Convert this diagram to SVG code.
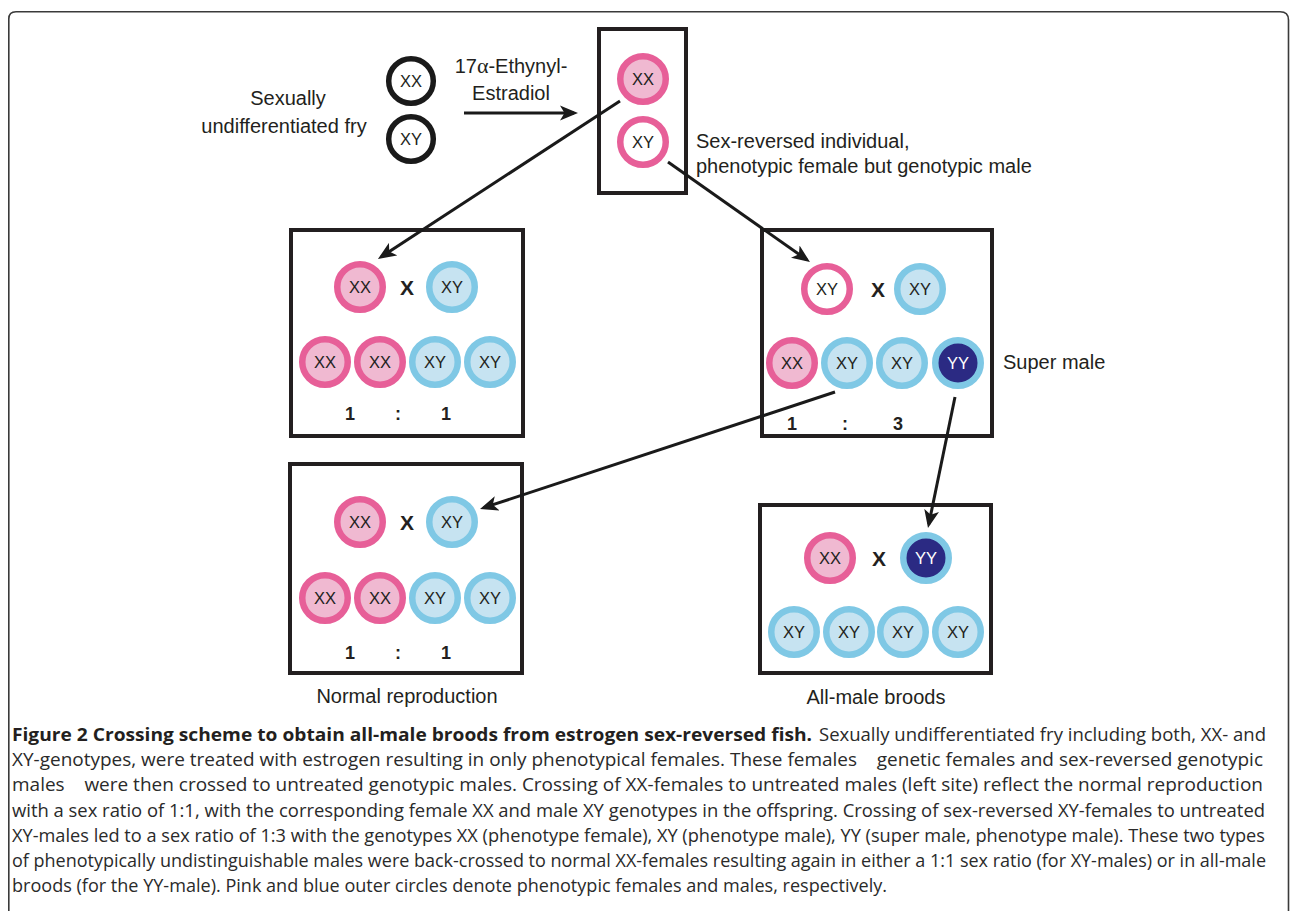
<svg xmlns="http://www.w3.org/2000/svg" width="1290" height="911" viewBox="0 0 1290 911">
<style>
.frame{fill:none;stroke:#3a3a3a;stroke-width:1.6}
.box{fill:none;stroke:#231f20;stroke-width:4}
.f{fill:#f0b9d1;stroke:#e75f98;stroke-width:6.5}
.m{fill:#c6e3f1;stroke:#7fc8e5;stroke-width:6.5}
.sr{fill:#fff;stroke:#e75f98;stroke-width:6.5}
.yy{fill:#2b2a83;stroke:#7fc8e5;stroke-width:6.5}
.fry{fill:#fff;stroke:#1a1a1a;stroke-width:5.5}
.g{font-family:"Liberation Sans",Arial,sans-serif;font-size:16.5px;fill:#231f20;text-anchor:middle}
.w{fill:#fff}
.x{font-family:"Liberation Sans",Arial,sans-serif;font-size:21px;font-weight:bold;fill:#231f20;text-anchor:middle}
.r{font-family:"Liberation Sans",Arial,sans-serif;font-size:18px;font-weight:bold;fill:#231f20;text-anchor:middle}
.lbl{font-family:"Liberation Sans",Arial,sans-serif;font-size:20px;fill:#231f20}
.cap{font-family:"Open Sans","Liberation Sans",sans-serif;font-size:17.5px;fill:#2a2a2a}
.capb{font-family:"Open Sans","Liberation Sans",sans-serif;font-size:17.5px;font-weight:bold;fill:#231f20}
.conn{fill:none;stroke:#1a1a1a;stroke-width:3}
</style>
<defs>
<marker id="ah" markerUnits="userSpaceOnUse" markerWidth="19" markerHeight="16" refX="14" refY="8" orient="auto">
<path d="M0,0.5 L18,8 L0,15.5 L4.5,8 z" fill="#1a1a1a"/>
</marker>
</defs>
<path class="frame" d="M8.8,930 V19 Q8.8,11.8 16,11.8 H1280 Q1288.5,11.8 1288.5,20 V930"/>

<g id="fry">
<text class="lbl" x="288" y="105" text-anchor="middle" font-size="19.5">Sexually</text>
<text class="lbl" x="284" y="133" text-anchor="middle" font-size="19.5">undifferentiated fry</text>
</g>
<g id="fry-xx"><circle class="fry" cx="411" cy="81" r="22.3"/><text class="g" x="411" y="87">XX</text></g>
<g id="fry-xy"><circle class="fry" cx="411" cy="139" r="22.3"/><text class="g" x="411" y="145">XY</text></g>
<g id="treatment-label">
<text class="lbl" x="511" y="73" text-anchor="middle">17<tspan font-family="'Liberation Serif',serif" font-size="22">α</tspan>-Ethynyl-</text>
<text class="lbl" x="511" y="100" text-anchor="middle">Estradiol</text>
</g>

<g id="treated">
<rect class="box" x="599" y="29" width="87" height="164"/>
<circle class="f" cx="643" cy="79" r="22.75"/><text class="g" x="643" y="85">XX</text>
<circle class="sr" cx="643" cy="142" r="22.75"/><text class="g" x="643" y="148">XY</text>
</g>
<g id="sexrev-label">
<text class="lbl" x="696" y="148">Sex-reversed individual,</text>
<text class="lbl" x="696" y="173">phenotypic female but genotypic male</text>
</g>

<g id="cross-normal-1">
<rect class="box" x="291" y="230" width="232" height="206"/>
<circle class="f" cx="360" cy="287" r="22.75"/><text class="g" x="360" y="293">XX</text>
<text class="x" x="407" y="295">X</text>
<circle class="m" cx="452" cy="287" r="22.75"/><text class="g" x="452" y="293">XY</text>
<circle class="f" cx="325" cy="362" r="22.75"/><text class="g" x="325" y="368">XX</text>
<circle class="f" cx="380" cy="362" r="22.75"/><text class="g" x="380" y="368">XX</text>
<circle class="m" cx="435" cy="362" r="22.75"/><text class="g" x="435" y="368">XY</text>
<circle class="m" cx="490" cy="362" r="22.75"/><text class="g" x="490" y="368">XY</text>
<text class="r" x="350" y="420">1</text><text class="r" x="398" y="420">:</text><text class="r" x="446" y="420">1</text>
</g>

<g id="cross-sexrev">
<rect class="box" x="762" y="230" width="230" height="206"/>
<circle class="sr" cx="827" cy="289" r="22.75"/><text class="g" x="827" y="295">XY</text>
<text class="x" x="878" y="297">X</text>
<circle class="m" cx="920" cy="289" r="22.75"/><text class="g" x="920" y="295">XY</text>
<circle class="f" cx="792" cy="363" r="22.75"/><text class="g" x="792" y="369">XX</text>
<circle class="m" cx="847" cy="363" r="22.75"/><text class="g" x="847" y="369">XY</text>
<circle class="m" cx="902" cy="363" r="22.75"/><text class="g" x="902" y="369">XY</text>
<circle class="yy" cx="958" cy="363" r="22.75"/><text class="g w" x="958" y="369">YY</text>
<text class="r" x="792" y="430">1</text><text class="r" x="845" y="430">:</text><text class="r" x="898" y="430">3</text>
</g>
<g id="super-male-label"><text class="lbl" x="1003" y="369">Super male</text></g>

<g id="cross-normal-2">
<rect class="box" x="290" y="464" width="232" height="209"/>
<circle class="f" cx="360" cy="522" r="22.75"/><text class="g" x="360" y="528">XX</text>
<text class="x" x="407" y="530">X</text>
<circle class="m" cx="452" cy="522" r="22.75"/><text class="g" x="452" y="528">XY</text>
<circle class="f" cx="325" cy="598" r="22.75"/><text class="g" x="325" y="604">XX</text>
<circle class="f" cx="380" cy="598" r="22.75"/><text class="g" x="380" y="604">XX</text>
<circle class="m" cx="435" cy="598" r="22.75"/><text class="g" x="435" y="604">XY</text>
<circle class="m" cx="490" cy="598" r="22.75"/><text class="g" x="490" y="604">XY</text>
<text class="r" x="350" y="659">1</text><text class="r" x="398" y="659">:</text><text class="r" x="446" y="659">1</text>
<text class="lbl" x="407" y="703" text-anchor="middle">Normal reproduction</text>
</g>

<g id="cross-allmale">
<rect class="box" x="760" y="505" width="231" height="168"/>
<circle class="f" cx="830" cy="558" r="22.75"/><text class="g" x="830" y="564">XX</text>
<text class="x" x="879" y="566">X</text>
<circle class="yy" cx="926" cy="558" r="22.75"/><text class="g w" x="926" y="564">YY</text>
<circle class="m" cx="794" cy="632" r="22.75"/><text class="g" x="794" y="638">XY</text>
<circle class="m" cx="849" cy="632" r="22.75"/><text class="g" x="849" y="638">XY</text>
<circle class="m" cx="903" cy="632" r="22.75"/><text class="g" x="903" y="638">XY</text>
<circle class="m" cx="958" cy="632" r="22.75"/><text class="g" x="958" y="638">XY</text>
<text class="lbl" x="876" y="704" text-anchor="middle">All-male broods</text>
</g>

<g id="connectors">
<line class="conn" x1="464" y1="113" x2="574" y2="113" marker-end="url(#ah)"/>
<line class="conn" x1="620" y1="101" x2="381.3" y2="256.8" marker-end="url(#ah)"/>
<line class="conn" x1="668" y1="162" x2="806.7" y2="259.7" marker-end="url(#ah)"/>
<line class="conn" x1="835" y1="392" x2="483.8" y2="507.7" marker-end="url(#ah)"/>
<line class="conn" x1="955" y1="397" x2="928.8" y2="524.1" marker-end="url(#ah)"/>
</g>

<g id="caption">
<text class="capb" x="12" y="741" textLength="800" lengthAdjust="spacingAndGlyphs">Figure 2 Crossing scheme to obtain all-male broods from estrogen sex-reversed fish.</text>
<text class="cap" x="819" y="741" textLength="447" lengthAdjust="spacingAndGlyphs">Sexually undifferentiated fry including both, XX- and</text>
<text class="cap" x="12" y="766.2" textLength="1251" lengthAdjust="spacingAndGlyphs">XY-genotypes, were treated with estrogen resulting in only phenotypical females. These females &#160;&#160;&#160;genetic females and sex-reversed genotypic</text>
<text class="cap" x="12" y="791.4" textLength="1251" lengthAdjust="spacingAndGlyphs">males &#160;&#160;&#160;were then crossed to untreated genotypic males. Crossing of XX-females to untreated males (left site) reflect the normal reproduction</text>
<text class="cap" x="12" y="816.6" textLength="1253" lengthAdjust="spacingAndGlyphs">with a sex ratio of 1:1, with the corresponding female XX and male XY genotypes in the offspring. Crossing of sex-reversed XY-females to untreated</text>
<text class="cap" x="12" y="841.8" textLength="1253" lengthAdjust="spacingAndGlyphs">XY-males led to a sex ratio of 1:3 with the genotypes XX (phenotype female), XY (phenotype male), YY (super male, phenotype male). These two types</text>
<text class="cap" x="12" y="867" textLength="1254" lengthAdjust="spacingAndGlyphs">of phenotypically undistinguishable males were back-crossed to normal XX-females resulting again in either a 1:1 sex ratio (for XY-males) or in all-male</text>
<text class="cap" x="12" y="892.2" textLength="875" lengthAdjust="spacingAndGlyphs">broods (for the YY-male). Pink and blue outer circles denote phenotypic females and males, respectively.</text>
</g>
</svg>
